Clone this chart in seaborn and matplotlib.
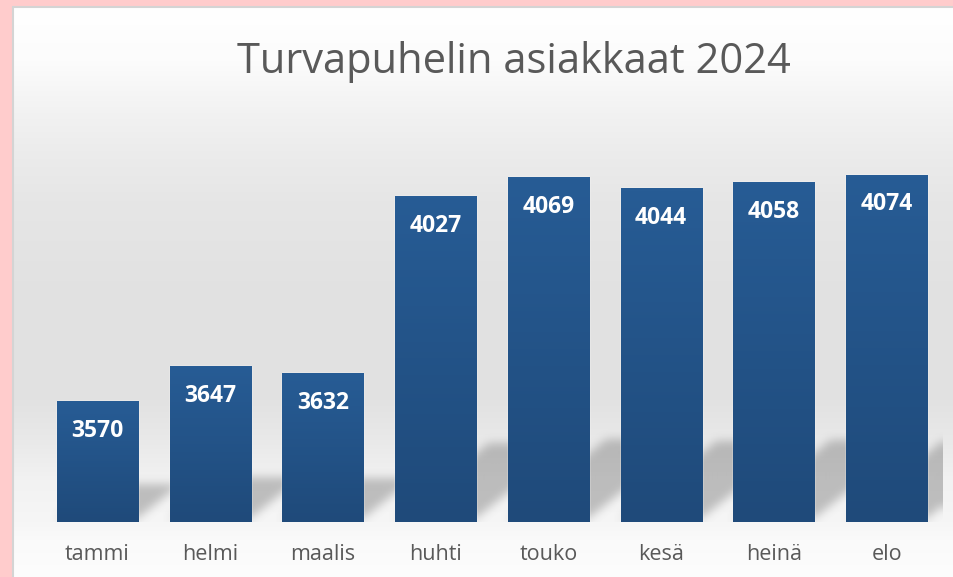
import numpy as np
import pandas as pd
import matplotlib
matplotlib.use("Agg")
import matplotlib.pyplot as plt
import seaborn as sns
from matplotlib.path import Path
from matplotlib.colors import LinearSegmentedColormap

# ---- data ----
months = ["tammi", "helmi", "maalis", "huhti", "touko", "kesä", "heinä", "elo"]
values = [3570, 3647, 3632, 4027, 4069, 4044, 4058, 4074]
title = "Turvapuhelin asiakkaat 2024"

sns.set_theme(style="white")
plt.rcParams["font.family"] = ["Open Sans", "DejaVu Sans"]

W, H = 954, 577
fig = plt.figure(figsize=(W / 100, H / 100), dpi=100, facecolor="#FFCCCC")

# ---- background panel with vertical gradient ----
px0, py0 = 13, 7  # panel left / top in pixels
bg_ax = fig.add_axes([px0 / W, 0, (W - px0) / W, (H - py0) / H])
stops_y = np.array([7, 60, 100, 150, 200, 300, 400, 440, 480, 522, 540, 577])
stops_v = np.array([255, 252, 244, 236, 230, 225, 226, 233, 242, 246, 250, 253]) / 255
ys = np.arange(py0, H)
grad = np.interp(ys, stops_y, stops_v)
bg = np.repeat(grad[:, None], 4, axis=1)
bg_ax.imshow(np.dstack([bg, bg, bg]), aspect="auto", extent=[0, 1, 0, 1], origin="upper")
bg_ax.set_xlim(0, 1)
bg_ax.set_ylim(0, 1)
bg_ax.axis("off")
# panel border lines (left and top)
fig.add_artist(plt.Line2D([px0 / W - 0.0005, px0 / W - 0.0005], [0, 1 - py0 / H], color="#D4D4D4", lw=1.5, transform=fig.transFigure))
fig.add_artist(plt.Line2D([px0 / W, 1], [1 - py0 / H + 0.0005, 1 - py0 / H + 0.0005], color="#D4D4D4", lw=1.5, transform=fig.transFigure))

# ---- main axes ----
left_px, right_px, top_px, base_px = 41, 943, 118, 522
ax = fig.add_axes([left_px / W, (H - base_px) / H, (right_px - left_px) / W, (base_px - top_px) / H])
ax.set_facecolor("none")

df = pd.DataFrame({"month": months, "value": values})
sns.barplot(data=df, x="month", y="value", color="#245488", width=0.72, ax=ax,
            saturation=1, zorder=3)
ax.set_ylim(3300, 4200)
ax.set_xlim(-0.5, len(months) - 0.5)

# ---- bar gradients ----
bar_cmap = LinearSegmentedColormap.from_list("barg", ["#1F4A7A", "#275C95"])
for p in ax.patches:
    x0, w = p.get_x(), p.get_width()
    y0, h = p.get_y(), p.get_height()
    top = y0 + h
    g = np.linspace(1, 0, 100)[:, None]
    im = ax.imshow(g, cmap=bar_cmap, vmin=0, vmax=1, aspect="auto",
                   extent=[x0, x0 + w, 3300, top], origin="upper", zorder=3.5)
    im.set_clip_path(p)
ax.set_xlim(-0.5, len(months) - 0.5)
ax.set_ylim(3300, 4200)

# ---- soft cast shadows (computed from bar geometry) ----
bbox = ax.get_position()
ax_w = int(round(bbox.width * W))
ax_h = int(round(bbox.height * H))
xs = np.arange(ax_w) + 0.5
yy = np.arange(ax_h) + 0.5
XX, YY = np.meshgrid(xs, yy)  # YY measured downward from axes top
pts = np.column_stack([XX.ravel(), YY.ravel()])
mask = np.zeros(ax_h * ax_w)
xscale = ax_w / len(months)
yscale = ax_h / (4200 - 3300)
for p in ax.patches:
    xl = (p.get_x() + 0.5) * xscale
    xr = (p.get_x() + p.get_width() + 0.5) * xscale
    hpx = (p.get_height() + p.get_y() - 3300) * yscale
    sh = 0.2 * hpx + 10
    b0 = ax_h - 4
    dx = sh / 0.8
    poly = Path([(xl, b0), (xr, b0), (xr + dx, b0 - sh), (xl + dx, b0 - sh), (xl, b0)])
    mask = np.maximum(mask, poly.contains_points(pts).astype(float))
mask = mask.reshape(ax_h, ax_w)


def box_blur(a, r):
    k = 2 * r + 1
    pad = np.pad(a, ((0, 0), (r + 1, r)), mode="edge")
    c = np.cumsum(pad, axis=1)
    a = (c[:, k:] - c[:, :-k]) / k
    pad = np.pad(a, ((r + 1, r), (0, 0)), mode="edge")
    c = np.cumsum(pad, axis=0)
    return (c[k:, :] - c[:-k, :]) / k


for _ in range(3):
    mask = box_blur(mask, 4)
shadow = np.zeros((ax_h, ax_w, 4))
shadow[..., :3] = 0.42
shadow[..., 3] = mask * 0.40
ax.imshow(shadow, aspect="auto", extent=[-0.5, len(months) - 0.5, 3300, 4200],
          origin="upper", zorder=1)
ax.set_xlim(-0.5, len(months) - 0.5)
ax.set_ylim(3300, 4200)

# ---- value labels ----
for i, v in enumerate(values):
    ax.annotate(f"{v}", xy=(i, v), xytext=(0, -21.5), textcoords="offset points",
                ha="center", va="center", color="white", fontsize=16.5,
                fontweight="bold", zorder=5)

# ---- axes styling ----
for s in ax.spines.values():
    s.set_visible(False)
ax.set_yticks([])
ax.set_xlabel("")
ax.set_ylabel("")
ax.tick_params(axis="x", length=0, pad=15.5, labelsize=15.5, labelcolor="#595959")

# ---- title ----
fig.text(514 / W, 1 - 73 / H, title, ha="center", va="baseline",
         fontsize=30, color="#595959")

fig.savefig("out.png", dpi=100, facecolor=fig.get_facecolor())
